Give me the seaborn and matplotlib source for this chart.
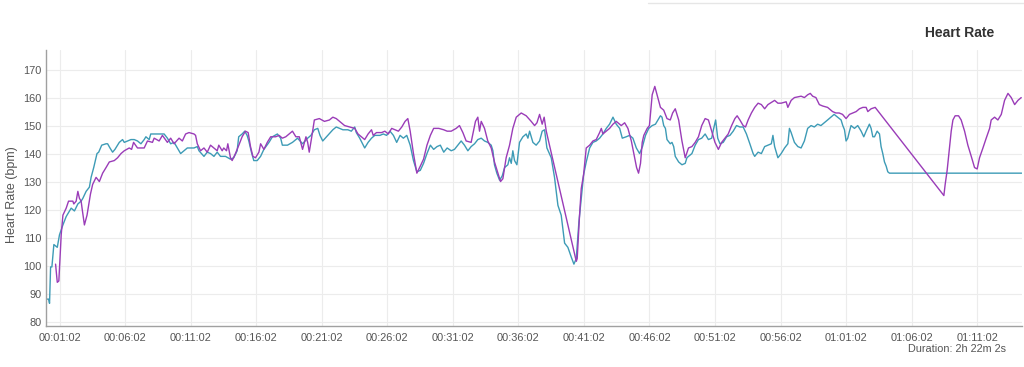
import matplotlib
matplotlib.use("Agg")
import matplotlib.pyplot as plt
from matplotlib.lines import Line2D
import seaborn as sns
import pandas as pd

# elapsed minutes / bpm
teal_min = [0.05, 0.2, 0.27, 0.35, 0.45, 0.6, 0.86, 1.03, 1.29, 1.54, 1.92, 2.17, 2.43, 2.68, 2.81,
            3.06, 3.31, 3.44, 3.64, 3.89, 4.02, 4.25, 4.58, 4.7, 4.88, 5.08, 5.26, 5.59, 5.84, 5.97,
            6.22, 6.48, 6.73, 6.98, 7.24, 7.49, 7.62, 7.87, 7.99, 8.63, 9.01, 9.26, 9.51, 9.77, 10.02,
            10.27, 10.53, 10.78, 11.29, 11.54, 11.67, 12.05, 12.3, 12.55, 12.81, 13.06, 13.31, 13.69,
            14.07, 14.32, 14.58, 14.7, 14.96, 15.16, 15.34, 15.47, 15.67, 15.85, 16.11, 16.37, 16.62,
            17.01, 17.27, 17.65, 17.9, 18.03, 18.42, 18.8, 19.19, 19.57, 19.96, 20.21, 20.47, 20.73,
            20.9, 21.11, 21.49, 21.88, 22.14, 22.4, 22.65, 23.03, 23.29, 23.55, 23.67, 23.93, 24.31,
            24.57, 24.83, 25.08, 25.47, 25.73, 25.98, 26.24, 26.5, 26.75, 27.01, 27.26, 27.52, 27.78,
            28.03, 28.29, 28.55, 28.8, 29.06, 29.32, 29.57, 29.83, 30.08, 30.34, 30.6, 30.91, 31.16,
            31.41, 31.67, 31.92, 32.18, 32.43, 32.69, 32.94, 33.2, 33.45, 33.7, 33.96, 34.09, 34.21,
            34.39, 34.6, 34.8, 34.98, 35.23, 35.36, 35.49, 35.61, 35.74, 35.92, 36.12, 36.38, 36.63,
            36.76, 36.89, 37.14, 37.39, 37.65, 37.85, 38.03, 38.21, 38.54, 38.79, 39.05, 39.3, 39.56,
            39.81, 40.07, 40.27, 40.45, 40.65, 40.83, 41.01, 41.21, 41.47, 41.72, 41.97, 42.23, 42.48,
            42.74, 42.99, 43.25, 43.5, 43.76, 43.96, 44.26, 44.52, 44.77, 45.03, 45.28, 45.5, 45.73,
            45.98, 46.24, 46.49, 46.74, 46.87, 46.99, 47.12, 47.25, 47.37, 47.62, 47.75, 47.88, 48.0,
            48.26, 48.51, 48.76, 48.89, 49.01, 49.27, 49.52, 49.77, 50.02, 50.28, 50.53, 50.78, 50.91,
            51.08, 51.24, 51.41, 51.66, 51.92, 52.17, 52.42, 52.67, 52.93, 53.18, 53.43, 53.69, 53.94,
            54.06, 54.32, 54.57, 54.82, 55.07, 55.33, 55.45, 55.58, 55.83, 56.08, 56.34, 56.59, 56.71,
            56.84, 57.09, 57.35, 57.6, 57.85, 58.1, 58.36, 58.61, 58.86, 59.11, 59.37, 59.62, 59.87,
            60.12, 60.38, 60.65, 60.78, 60.91, 61.03, 61.16, 61.29, 61.41, 61.67, 61.92, 62.18, 62.38,
            62.56, 62.81, 62.94, 63.07, 63.2, 63.4, 63.58, 63.7, 63.83, 63.96, 64.09, 64.21, 64.34,
            74.43]
teal_bpm = [88, 88, 86.5, 99.5, 99.5, 107.5, 106.5, 111, 114.5, 117.5, 120.5, 119.5, 122, 123, 124,
            126.5, 128, 131.5, 135, 140, 140.5, 143, 143.5, 143.5, 142, 140.5, 141.5, 144, 145, 144,
            144.5, 145, 145, 144.5, 143.5, 145, 146, 145, 147, 147, 147, 145.5, 143.5, 144, 142,
            140, 141, 142, 142, 142.5, 141, 139, 140.5, 140, 139, 140.5, 139, 139,
            138, 138.5, 141, 146, 147, 148, 146.5, 144.5, 140.5, 137.5, 137.5, 139, 141.5,
            144, 146, 147, 145.5, 143, 143, 144, 145.5, 143.5, 145.5, 146.5, 148.5, 149,
            146.5, 144.5, 146.5, 148.5, 149.5, 149, 148.5, 148.5, 148, 149.5, 147.5, 145.5, 142,
            144, 145.5, 146.5, 146.5, 147, 146.5, 148, 146.5, 144, 146.5, 145.5, 146.5, 143,
            137.5, 133.5, 134, 136.5, 140, 143, 141.5, 142.5, 143, 140.5, 142, 141, 141.5,
            143, 144.5, 143, 141, 142.5, 143.5, 145, 145.5, 144.5, 144, 143, 141, 136,
            133, 130.5, 132, 135, 136, 138.5, 136.5, 141, 137.5, 136, 144, 146, 147,
            145.5, 148, 144, 143, 144.5, 148, 148.5, 142, 138.5, 131.5, 121.5, 118, 108,
            106.5, 103, 100.5, 102.5, 115.5, 124, 132.5, 137, 142, 144, 144.5, 145.5, 147,
            149, 150.5, 153, 150.5, 149, 145.5, 146, 146.5, 145.5, 142, 140, 142.5, 146.5,
            149, 150, 150.5, 152.5, 153.5, 153, 150, 149, 145, 143.5, 144, 142.5, 139,
            137, 136, 136.5, 138.5, 139, 140, 143, 145, 145.5, 147, 145, 145.5, 148.5,
            152, 145.5, 143.5, 144, 146, 146.5, 148, 150, 149.5, 149.5, 147, 143.5, 140,
            139, 140.5, 140, 142.5, 143, 143.5, 146.5, 142.5, 138.5, 140, 142, 143.5, 149,
            147.5, 144, 142.5, 142, 144.5, 149, 150, 149.5, 150.5, 150, 151, 152, 153,
            154, 153, 152, 150, 148.5, 144.5, 145.5, 148, 150, 149, 150, 148, 146,
            148, 150.5, 149, 146, 146, 148, 147, 142.5, 140, 137, 135.5, 133.5, 133,
            133]

purple_min = [0.73, 0.86, 0.98, 1.16, 1.29, 1.54, 1.72, 2.05, 2.12, 2.3, 2.43, 2.55, 2.68, 2.75, 2.93,
              3.13, 3.39, 3.56, 3.82, 4.07, 4.32, 4.58, 4.83, 5.21, 5.46, 5.72, 5.97, 6.35, 6.53,
              6.68, 6.98, 7.49, 7.74, 8.12, 8.25, 8.63, 8.88, 9.26, 9.51, 9.77, 10.15, 10.4, 10.65,
              10.91, 11.29, 11.41, 11.54, 11.79, 12.05, 12.3, 12.55, 12.81, 13.06, 13.18, 13.44,
              13.56, 13.77, 13.87, 14.07, 14.2, 14.45, 14.71, 14.96, 15.21, 15.42, 15.6, 15.78,
              15.98, 16.24, 16.37, 16.62, 16.88, 17.14, 17.52, 17.78, 18.03, 18.29, 18.55, 18.8,
              19.06, 19.32, 19.57, 19.83, 19.96, 20.08, 20.29, 20.47, 20.85, 21.24, 21.62, 21.88,
              22.14, 22.4, 22.78, 23.16, 23.55, 23.8, 24.06, 24.31, 24.57, 24.83, 24.96, 25.21,
              25.6, 25.85, 26.11, 26.37, 26.62, 26.88, 27.14, 27.39, 27.6, 27.78, 28.03, 28.29,
              28.55, 28.8, 29.06, 29.32, 29.57, 29.96, 30.34, 30.6, 30.91, 31.29, 31.54, 31.8,
              32.05, 32.43, 32.56, 32.76, 32.94, 33.07, 33.2, 33.45, 33.7, 33.96, 34.21, 34.47,
              34.67, 34.85, 35.1, 35.36, 35.61, 35.87, 36.25, 36.63, 37.01, 37.27, 37.45, 37.65,
              37.85, 38.0, 38.16, 40.45, 40.52, 40.7, 40.83, 41.01, 41.21, 41.47, 41.72, 41.97,
              42.23, 42.36, 42.48, 42.74, 42.99, 43.25, 43.5, 43.88, 44.14, 44.39, 44.65, 44.9,
              45.05, 45.2, 45.35, 45.48, 45.6, 45.86, 46.03, 46.24, 46.44, 46.61, 46.87, 47.12,
              47.37, 47.62, 47.8, 48.0, 48.26, 48.51, 48.76, 49.01, 49.27, 49.52, 49.77, 50.02,
              50.28, 50.53, 50.78, 51.03, 51.29, 51.54, 51.79, 52.04, 52.3, 52.55, 52.72, 52.93,
              53.18, 53.36, 53.56, 53.81, 54.06, 54.32, 54.57, 54.82, 55.07, 55.58, 55.83, 56.08,
              56.46, 56.59, 56.84, 57.09, 57.6, 57.85, 58.1, 58.3, 58.48, 58.73, 58.99, 59.24,
              59.62, 60.0, 60.25, 60.5, 60.76, 61.03, 61.29, 61.54, 61.8, 62.05, 62.31, 62.56,
              62.69, 62.94, 63.25, 68.49, 68.59, 68.74, 68.92, 69.05, 69.18, 69.35, 69.61, 69.81,
              70.07, 70.32, 70.58, 70.83, 71.03, 71.21, 71.47, 71.72, 71.98, 72.1, 72.36, 72.61,
              72.87, 73.12, 73.38, 73.63, 73.89, 74.14, 74.39]
purple_bpm = [100.5, 94, 94.5, 111, 118, 120.5, 123, 123, 122, 123, 126.5, 124, 123, 120.5, 114.5,
              118, 125.5, 129, 131.5, 130, 133, 135, 137, 137.5, 138.5, 140, 141, 142, 141.5,
              144, 142, 142, 144.5, 144, 145.5, 144.5, 146.5, 144, 145.5, 143.5, 145.5, 144.5, 147,
              147.5, 147, 146.5, 143.5, 141, 142, 140.5, 143, 142, 141, 143, 141,
              142, 141, 143.5, 138.5, 137.5, 140, 143, 146, 148, 147.5, 142.5, 139,
              138.5, 140.5, 143.5, 141.5, 144, 146, 146, 146.5, 145.5, 146, 147, 148,
              146, 146, 141.5, 146, 144, 140.5, 146.5, 152, 152.5, 151.5, 152, 153,
              152.5, 151.5, 150, 149.5, 149, 147, 146, 145, 147, 148.5, 146.5, 147.5,
              147.5, 148, 147, 149, 148.5, 148, 149.5, 151.5, 152.5, 148, 140, 133,
              135.5, 138, 143, 146.5, 149, 149, 148.5, 148, 148, 149, 150, 147.5,
              144.5, 144, 147, 151.5, 153, 148, 151.5, 149, 144.5, 142, 137, 133,
              130, 131, 138.5, 143, 149, 153, 154.5, 153.5, 151.5, 150, 151, 154,
              150.5, 153, 148, 101.5, 102.5, 118, 127.5, 132.5, 142, 143, 144.5, 145,
              147.5, 149, 147, 148, 149, 150.5, 151.5, 150, 151, 149, 144.5, 138.5,
              135, 133, 136.5, 144, 146.5, 149, 150, 161, 164, 161, 156.5, 155.5,
              152.5, 152, 154.5, 156, 152, 144.5, 138.5, 142, 142.5, 144, 146, 150,
              152.5, 152, 148, 144, 141.5, 144, 145.5, 147, 150, 152.5, 153.5, 152,
              150, 149.5, 152, 154.5, 156.5, 158, 157.5, 156, 157.5, 159, 158, 158,
              158.5, 156.5, 159, 160, 160.5, 160, 161, 161.5, 160.5, 160, 157.5, 157,
              156.5, 155, 154.5, 154.5, 154, 152.5, 154, 154.5, 155, 156, 156.5, 156.5,
              155, 156, 156.5, 125, 129, 134, 142, 148, 152, 153.5, 153.5, 152,
              148, 143, 139, 135, 134.5, 138.5, 142, 145.5, 149, 152, 153, 152,
              154, 159, 161.5, 160, 157.5, 159, 160]

tick_labels = ["00:01:02", "00:06:02", "00:11:02", "00:16:02", "00:21:02", "00:26:02", "00:31:02",
               "00:36:02", "00:41:02", "00:46:02", "00:51:02", "00:56:02", "01:01:02", "01:06:02",
               "01:11:02"]
y_ticks = [80, 90, 100, 110, 120, 130, 140, 150, 160, 170]


def to_minutes(label):
    h, m, s = (int(p) for p in label.split(":"))
    return h * 60 + m + s / 60


teal = pd.DataFrame({"minute": teal_min, "bpm": teal_bpm})
purple = pd.DataFrame({"minute": purple_min, "bpm": purple_bpm})

sns.set_style("white")
plt.rcParams["font.family"] = ["Liberation Sans", "DejaVu Sans"]

fig = plt.figure(figsize=(10.24, 3.67), dpi=100)
ax = fig.add_axes([46 / 1024, 1 - 326 / 367, 976 / 1024, 276 / 367])

sns.lineplot(data=teal, x="minute", y="bpm", ax=ax, color="#3d9bb6", linewidth=1.0,
             estimator=None, sort=False)
sns.lineplot(data=purple, x="minute", y="bpm", ax=ax, color="#9a3cb8", linewidth=1.0,
             estimator=None, sort=False)

ax.set_xlim(0.0, 74.45)
ax.set_ylim(78.4, 177)
ax.set_xticks([to_minutes(t) for t in tick_labels])
ax.set_xticklabels(tick_labels)
ax.set_yticks(y_ticks)
ax.tick_params(axis="both", length=0, labelsize=7.9, labelcolor="#555555")
ax.tick_params(axis="x", pad=5)
ax.tick_params(axis="y", pad=3)
ax.grid(True, color="#ececec", linewidth=0.8)
ax.set_axisbelow(True)
for side in ["top", "right"]:
    ax.spines[side].set_visible(False)
for side in ["left", "bottom"]:
    ax.spines[side].set_color("#a0a0a0")
    ax.spines[side].set_linewidth(1.0)
ax.set_xlabel("")
ax.set_ylabel("")

# decoration
fig.text(0.9375, 0.91, "Heart Rate", ha="center", va="center", fontsize=10,
         fontweight="bold", color="#333333")
fig.text(0.0117, 0.469, "Heart Rate (bpm)", rotation=90, ha="center", va="center",
         fontsize=9, color="#555555")
fig.text(0.9345, 0.049, "Duration: 2h 22m 2s", ha="center", va="center", fontsize=7.8,
         color="#555555")
fig.add_artist(Line2D([648 / 1024, 1.0], [1 - 3 / 367, 1 - 3 / 367], color="#e6e6e6",
                      linewidth=1.0))

fig.savefig("out.png", dpi=100)
